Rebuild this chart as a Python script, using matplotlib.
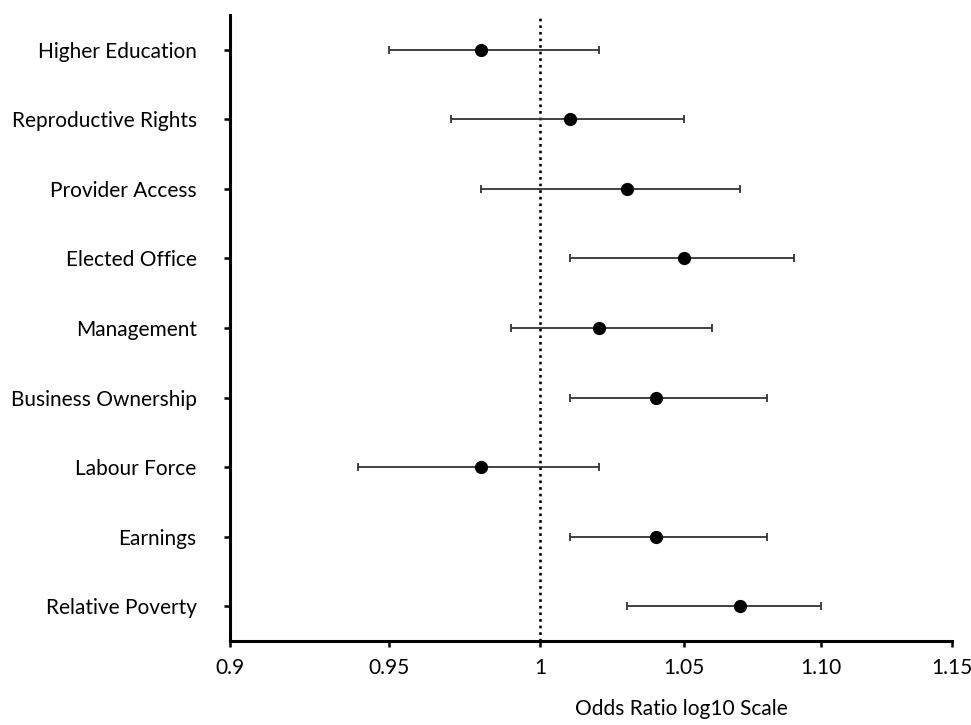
import matplotlib
matplotlib.use('Agg')
import matplotlib.pyplot as plt
import numpy as np

# forest plot data (odds ratios with 95% CI)
outcomes = ['Higher Education', 'Reproductive Rights', 'Provider Access', 'Elected Office',
            'Management', 'Business Ownership', 'Labour Force', 'Earnings', 'Relative Poverty']
odds_ratio = [0.98, 1.01, 1.03, 1.05, 1.02, 1.04, 0.98, 1.04, 1.07]
ci_low = [0.95, 0.97, 0.98, 1.01, 0.99, 1.01, 0.94, 1.01, 1.03]
ci_high = [1.02, 1.05, 1.07, 1.09, 1.06, 1.08, 1.02, 1.08, 1.10]
xtick_vals = [0.9, 0.95, 1.0, 1.05, 1.10, 1.15]
xtick_labels = ['0.9', '0.95', '1', '1.05', '1.10', '1.15']

plt.rcParams['font.family'] = ['Lato', 'DejaVu Sans']

fig = plt.figure(figsize=(9.71, 7.25), dpi=100)
ax = fig.add_axes([230/971, 1-641/725, (952-230)/971, (641-15)/725])

y = np.arange(len(outcomes))
or_arr = np.array(odds_ratio)
err = [or_arr - np.array(ci_low), np.array(ci_high) - or_arr]

ax.axvline(1.0, color='black', lw=1.9, ls=(0, (1, 1.5)), zorder=1)
ax.errorbar(odds_ratio, y, xerr=err, fmt='o', color='black', ecolor='#333333',
            elinewidth=1.3, capsize=3, capthick=1.3, markersize=8.5, zorder=3)

ax.set_xscale('log')
ax.set_xlim(0.9, 1.15)
ax.set_xticks(xtick_vals)
ax.set_xticklabels(xtick_labels)
ax.minorticks_off()
ax.set_ylim(len(outcomes) - 0.5, -0.5)
ax.set_yticks(y)
ax.set_yticklabels(outcomes)

for s in ['top', 'right']:
    ax.spines[s].set_visible(False)
for s in ['left', 'bottom']:
    ax.spines[s].set_linewidth(2.2)
ax.tick_params(axis='both', width=1.8, length=4, labelsize=15, pad=8, colors='black')
ax.tick_params(axis='y', pad=20)

ax.set_xlabel('Odds Ratio log10 Scale', fontsize=15)
ax.xaxis.set_label_coords(0.625, -0.093)

fig.savefig('out.png', dpi=100)
